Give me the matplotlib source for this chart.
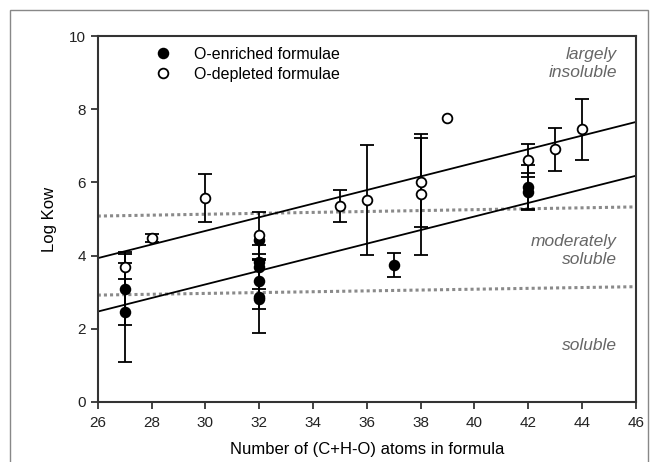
import numpy as np
import matplotlib
matplotlib.use("Agg")
import matplotlib.pyplot as plt
from matplotlib.patches import Rectangle
from matplotlib.lines import Line2D

plt.rcParams['font.family'] = ['Liberation Sans', 'DejaVu Sans']

# O-depleted formulae (open circles)
dep_x = [27, 28, 30, 32, 35, 36, 38, 38, 39, 42, 43, 44]
dep_y = [3.70, 4.48, 5.58, 4.55, 5.35, 5.52, 6.00, 5.67, 7.75, 6.60, 6.90, 7.45]
dep_err = [0.35, 0.12, 0.65, 0.65, 0.43, 1.50, 1.22, 1.65, 0.0, 0.45, 0.60, 0.83]

# O-enriched formulae (filled circles)
enr_x = [27, 27, 32, 32, 32, 32, 32, 32, 37, 42, 42]
enr_y = [3.10, 2.45, 4.42, 3.82, 3.70, 3.30, 2.88, 2.82, 3.75, 5.88, 5.75]
enr_err = [1.00, 1.35, 0.0, 0.0, 0.60, 0.75, 1.00, 0.0, 0.33, 0.60, 0.50]

# regression lines and solubility boundaries (end points)
fit_x = [26, 46]
dep_fit = [3.93, 7.65]
enr_fit = [2.47, 6.18]
upper_bound = [5.08, 5.33]
lower_bound = [2.92, 3.15]

fig = plt.figure(figsize=(6.52, 4.62), dpi=100)
ax = fig.add_axes([0.150, 0.130, 0.825, 0.792])

ax.plot(fit_x, dep_fit, color='black', lw=1.3, zorder=2)
ax.plot(fit_x, enr_fit, color='black', lw=1.3, zorder=2)
ax.plot(fit_x, upper_bound, color='#8a8a8a', lw=2.2, ls=(0, (1, 1)), zorder=1)
ax.plot(fit_x, lower_bound, color='#8a8a8a', lw=2.2, ls=(0, (1, 1)), zorder=1)


def draw(xs, ys, errs, face, z):
    xs, ys, errs = np.array(xs), np.array(ys), np.array(errs)
    m = errs > 0
    ax.errorbar(xs[m], ys[m], yerr=errs[m], fmt='none', ecolor='black',
                capsize=5, elinewidth=1.3, capthick=1.3, zorder=z)
    ax.plot(xs, ys, 'o', color='black', mfc=face, ms=7, mew=1.3, zorder=z + 0.5)


draw(enr_x, enr_y, enr_err, 'black', 3)
draw(dep_x, dep_y, dep_err, 'white', 4)

ax.set_xlim(26, 46)
ax.set_ylim(0, 10)
ax.set_xticks(np.arange(26, 47, 2))
ax.set_yticks(np.arange(0, 11, 2))
ax.tick_params(direction='out', length=5, width=1.2, labelsize=11, colors='#222222')
ax.tick_params(axis='x', pad=5)
for s in ax.spines.values():
    s.set_linewidth(1.5)
    s.set_color('#333333')

ax.set_xlabel('Number of (C+H-O) atoms in formula', fontsize=12, labelpad=9)
ax.set_ylabel('Log Kow', fontsize=12)
ax.yaxis.set_label_coords(-0.075, 0.5)

handles = [Line2D([], [], ls='none', marker='o', color='black', mfc='black', ms=7, mew=1.3),
           Line2D([], [], ls='none', marker='o', color='black', mfc='white', ms=7, mew=1.3)]
ax.legend(handles, ['O-enriched formulae', 'O-depleted formulae'], loc='upper left',
          bbox_to_anchor=(0.08, 1.01), frameon=False, fontsize=11.5,
          handlelength=1.0, handletextpad=1.4, labelspacing=0.3)

tcol = '#666666'
ax.text(45.3, 9.7, 'largely\ninsoluble', ha='right', va='top', style='italic',
        color=tcol, fontsize=12.5, linespacing=1.25)
ax.text(45.3, 4.6, 'moderately\nsoluble', ha='right', va='top', style='italic',
        color=tcol, fontsize=12.5, linespacing=1.25)
ax.text(45.3, 1.55, 'soluble', ha='right', va='center', style='italic',
        color=tcol, fontsize=12.5)

fig.patches.append(Rectangle((10 / 652, -0.1), 638 / 652, 1.1 - 10 / 462,
                             transform=fig.transFigure, fill=False,
                             edgecolor='#888888', lw=1.0))

fig.savefig('out.png', dpi=100)
